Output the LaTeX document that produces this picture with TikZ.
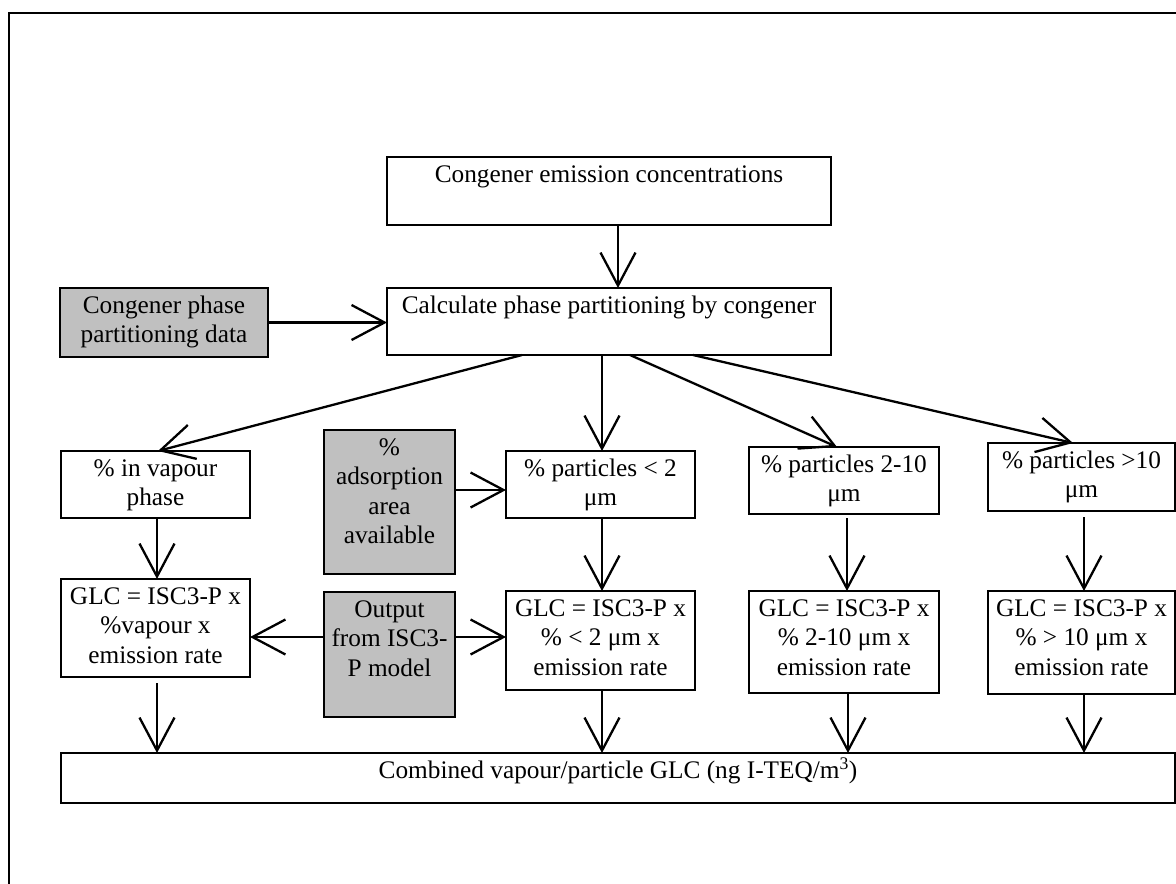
\documentclass[tikz,border=0pt]{standalone}
\usepackage{fontspec}
\setmainfont{Liberation Serif}
\usetikzlibrary{arrows.meta}
\definecolor{boxgray}{RGB}{192,192,192}
\newcommand{\bx}[3]{\parbox[t][#2][t]{#1}{\centering\vspace*{4.5pt}\strut #3\par}}
\begin{document}
\begin{tikzpicture}[x=1pt,y=-1pt,
  every node/.style={font=\fontsize{25.3pt}{29.5pt}\selectfont},
  box/.style={draw, line width=2.3pt, inner sep=0pt, outer sep=0pt, anchor=north west, fill=white},
  gbox/.style={box, fill=boxgray},
  arr/.style={line width=2.3pt, -{Straight Barb[length=33pt,width=35pt,line width=2.3pt]}}]
\useasboundingbox (0,0) rectangle (1176,884);
\clip (0,0) rectangle (1176,884);
\draw[line width=1.5pt] (9,13) rectangle (1200,900);

\node[box]  (A) at (387,157) {\bx{444pt}{68pt}{Congener emission concentrations}};
\node[box]  (B) at (387,288) {\bx{444pt}{67pt}{Calculate phase partitioning by congener}};
\node[gbox] (C) at (60,288)  {\bx{208pt}{69pt}{Congener phase\\partitioning data}};
\node[box]  (D) at (61,451)  {\bx{189pt}{67pt}{\% in vapour\\phase}};
\node[gbox] (E) at (324,430) {\bx{131pt}{144pt}{\%\\adsorption\\area\\available}};
\node[box]  (F) at (506,451) {\bx{189pt}{67pt}{\% particles < 2\\μm}};
\node[box]  (G) at (749,447) {\bx{190pt}{67pt}{\% particles 2-10\\μm}};
\node[box]  (H) at (988,443) {\bx{187pt}{68pt}{\% particles >10\\μm}};
\node[box]  (I) at (61,579)  {\bx{189pt}{98pt}{GLC = ISC3-P x\\\%vapour x\\emission rate}};
\node[gbox] (J) at (324,592) {\bx{131pt}{125pt}{Output\\from ISC3-\\P model}};
\node[box]  (K) at (506,591) {\bx{189pt}{99pt}{GLC = ISC3-P x\\\% < 2 μm x\\emission rate}};
\node[box]  (L) at (749,591) {\bx{190pt}{102pt}{GLC = ISC3-P x\\\% 2-10 μm x\\emission rate}};
\node[box]  (M) at (988,591) {\bx{187pt}{103pt}{GLC = ISC3-P x\\\% > 10 μm x\\emission rate}};
\node[box]  (N) at (61,753)  {\bx{1114pt}{50pt}{Combined vapour/particle GLC (ng I-TEQ/m\textsuperscript{3})}};

% top flow
\draw[arr] ([xshift=9pt]A.south) -- ([xshift=9pt]B.north);
\draw[arr] (C.east) -- (C.east -| B.west);
\draw[arr] ([xshift=-87pt]B.south) -- ([xshift=2.5pt]D.north);
\draw[arr] ([xshift=-7pt]B.south) -- ([xshift=1.5pt]F.north);
\draw[arr] ([xshift=21pt]B.south) -- ([xshift=-7pt]G.north);
\draw[arr] ([xshift=84pt]B.south) -- ([xshift=-8.5pt]H.north);

% side inputs
\coordinate (ef) at ([yshift=-5.5pt]F.west);
\draw[arr] (E.east |- ef) -- (ef);
\coordinate (jw) at ([yshift=17.5pt]J.west);
\draw[arr] (jw) -- (I.east |- jw);
\draw[arr] (J.east |- jw) -- (K.west |- jw);

% vertical flows
\draw[arr] ([xshift=1.5pt]D.south) -- ([xshift=1.5pt]I.north);
\draw[arr] ([xshift=1.5pt]F.south) -- ([xshift=1.5pt]K.north);
\draw[arr, shorten <=4pt] ([xshift=3pt]G.south) -- ([xshift=3pt]L.north);
\draw[arr, shorten <=6pt] ([xshift=2.5pt]H.south) -- ([xshift=2.5pt]M.north);

\coordinate (i1) at ([xshift=1.5pt]I.south);
\coordinate (k1) at ([xshift=1.5pt]K.south);
\coordinate (l1) at ([xshift=4pt]L.south);
\coordinate (m1) at ([xshift=2.5pt]M.south);
\draw[arr, shorten <=6pt] (i1) -- (i1 |- N.north);
\draw[arr] (k1) -- (k1 |- N.north);
\draw[arr] (l1) -- (l1 |- N.north);
\draw[arr] (m1) -- (m1 |- N.north);
\end{tikzpicture}
\end{document}
